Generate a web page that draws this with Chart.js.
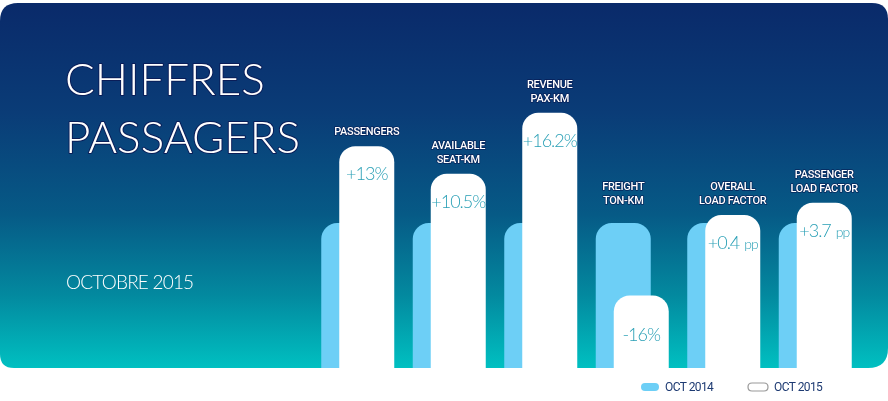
<!DOCTYPE html>
<html>
<head>
<meta charset="utf-8">
<script src="https://cdn.jsdelivr.net/npm/chart.js@4.4.0/dist/chart.umd.min.js"></script>
<style>
  html, body { margin: 0; padding: 0; background: #fff; }
  #wrap { width: 888px; height: 401px; }
</style>
</head>
<body>
<div id="wrap"><canvas id="traffic-chart" width="888" height="401"></canvas></div>
<script>
// traffic figures - Oct 2015 vs Oct 2014

const categories = [['PASSENGERS'], ['AVAILABLE', 'SEAT-KM'], ['REVENUE', 'PAX-KM'], ['FREIGHT', 'TON-KM'], ['OVERALL', 'LOAD FACTOR'], ['PASSENGER', 'LOAD FACTOR']];
// bar heights as drawn in the picture (Oct 2014 = 100)
const oct2014 = [100, 100, 100, 100, 100, 100];
const oct2015 = [153, 134, 176, 50, 105.5, 114];
const changeValues = ['+13%', '+10.5%', '+16.2%', '-16%', '+0.4', '+3.7'];
const changeUnits = ['', '', '', '', 'pp', 'pp'];
const seriesLabels = ['OCT 2014', 'OCT 2015'];
const titleLines = ['CHIFFRES', 'PASSAGERS'];
const subtitle = 'OCTOBRE 2015';

const LIGHT_BLUE = '#6dcff6';
const TEAL_TEXT = '#2aa0b6';

function roundRectPath(ctx, x, y, w, h, r) {
  ctx.beginPath();
  ctx.moveTo(x + r.tl, y);
  ctx.lineTo(x + w - r.tr, y);
  ctx.quadraticCurveTo(x + w, y, x + w, y + r.tr);
  ctx.lineTo(x + w, y + h - r.br);
  ctx.quadraticCurveTo(x + w, y + h, x + w - r.br, y + h);
  ctx.lineTo(x + r.bl, y + h);
  ctx.quadraticCurveTo(x, y + h, x, y + h - r.bl);
  ctx.lineTo(x, y + r.tl);
  ctx.quadraticCurveTo(x, y, x + r.tl, y);
  ctx.closePath();
}

function outlinedText(ctx, text, x, y, stroke, width) {
  ctx.lineJoin = 'round';
  ctx.strokeStyle = stroke;
  ctx.lineWidth = width;
  ctx.strokeText(text, x, y);
  ctx.fillStyle = '#fff';
  ctx.fillText(text, x, y);
}

// gradient panel + title behind the bars
const panelPlugin = {
  id: 'panel',
  beforeDraw(chart) {
    const ctx = chart.ctx;
    ctx.save();
    ctx.fillStyle = '#fff';
    ctx.fillRect(0, 0, chart.width, chart.height);
    const top = 3, bottom = chart.chartArea.bottom;
    const grad = ctx.createLinearGradient(0, top, 0, bottom);
    grad.addColorStop(0, '#0a2a6a');
    grad.addColorStop(0.3, '#0a3c77');
    grad.addColorStop(0.58, '#065a86');
    grad.addColorStop(0.8, '#03899f');
    grad.addColorStop(1, '#00c0c1');
    roundRectPath(ctx, 0, top, chart.width, bottom - top, { tl: 18, tr: 16, br: 20, bl: 14 });
    ctx.fillStyle = grad;
    ctx.fill();

    ctx.textAlign = 'left';
    ctx.textBaseline = 'alphabetic';
    ctx.font = '300 44px Lato';
    outlinedText(ctx, titleLines[0], 65, 95, '#0a1d58', 2);
    outlinedText(ctx, titleLines[1], 65, 153, '#0a1d58', 2);
    ctx.font = '300 19px Lato';
    ctx.letterSpacing = '-0.8px';
    ctx.fillStyle = '#fff';
    ctx.fillText(subtitle, 66, 289);
    ctx.restore();
  }
};

// white bars go on top of the light blue ones, then labels
const barsPlugin = {
  id: 'bars',
  beforeDatasetDraw(chart, args) {
    if (args.index === 1) return false;
  },
  afterDatasetsDraw(chart) {
    const ctx = chart.ctx;
    const m14 = chart.getDatasetMeta(0);
    const m15 = chart.getDatasetMeta(1);
    m15.controller.draw();

    ctx.save();
    categories.forEach((lines, i) => {
      const a = m14.data[i], b = m15.data[i];
      const tall = b.y < a.y ? b : a;
      // category name above the taller bar
      ctx.font = '500 11px Roboto';
      ctx.letterSpacing = '-0.3px';
      ctx.textAlign = 'center';
      ctx.textBaseline = 'alphabetic';
      const gap = tall === a ? 19 : 11;
      lines.forEach((line, k) => {
        const y = tall.y - gap - (lines.length - 1 - k) * 14;
        outlinedText(ctx, line, tall.x, y, 'rgba(8,25,80,0.8)', 1.5);
      });

      // change inside the white bar
      const h = b.base - b.y;
      const baseY = h < 100 ? b.base - 27 : b.y + 34;
      ctx.letterSpacing = '-1px';
      ctx.font = '300 18px Lato';
      const numW = ctx.measureText(changeValues[i]).width;
      let unitW = 0;
      if (changeUnits[i]) {
        ctx.font = '300 14px Lato';
        unitW = ctx.measureText(changeUnits[i]).width + 5;
      }
      const x = b.x - (numW + unitW) / 2;
      ctx.textAlign = 'left';
      ctx.fillStyle = TEAL_TEXT;
      ctx.font = '300 18px Lato';
      ctx.fillText(changeValues[i], x, baseY);
      if (changeUnits[i]) {
        ctx.font = '300 14px Lato';
        ctx.fillText(changeUnits[i], x + numW + 5, baseY);
      }
    });
    ctx.restore();
  },
  afterDraw(chart) {
    // legend under the panel
    const ctx = chart.ctx;
    const ds = chart.data.datasets;
    ctx.save();
    ctx.font = '400 12px Roboto';
    ctx.letterSpacing = '-0.6px';
    ctx.textBaseline = 'middle';
    ctx.textAlign = 'left';
    const cy = 387;
    const items = [{ x: 641, ds: ds[0] }, { x: 748, ds: ds[1] }];
    items.forEach((it, k) => {
      const w = k === 0 ? 18 : 20;
      roundRectPath(ctx, it.x, cy - 4, w, 8, { tl: 4, tr: 4, br: 4, bl: 4 });
      if (k === 0) {
        ctx.fillStyle = it.ds.backgroundColor;
        ctx.fill();
      } else {
        ctx.fillStyle = '#fff';
        ctx.fill();
        ctx.strokeStyle = '#9a9a9a';
        ctx.lineWidth = 1.2;
        ctx.stroke();
      }
      ctx.fillStyle = '#1d3a72';
      ctx.fillText(it.ds.label, it.x + w + 6, cy + 0.5);
    });
    ctx.restore();
  }
};

const ctx = document.getElementById('traffic-chart').getContext('2d');
const trafficChart = new Chart(ctx, {
  type: 'bar',
  data: {
    labels: categories,
    datasets: [
      {
        label: seriesLabels[0],
        data: oct2014,
        backgroundColor: LIGHT_BLUE,
        borderRadius: { topLeft: 16, topRight: 16 },
        borderSkipped: 'bottom'
      },
      {
        label: seriesLabels[1],
        data: oct2015,
        backgroundColor: '#ffffff',
        borderRadius: { topLeft: 16, topRight: 16 },
        borderSkipped: 'bottom'
      }
    ]
  },
  options: {
    responsive: false,
    animation: false,
    datasets: { bar: { categoryPercentage: 0.3934, barPercentage: 3.056 } },
    layout: { padding: { left: 312, right: 27, top: 5.5, bottom: 33 } },
    plugins: { legend: { display: false }, tooltip: { enabled: false } },
    scales: {
      x: { display: false },
      y: { display: false, min: 0, max: 250 }
    }
  },
  plugins: [panelPlugin, barsPlugin]
});
</script>
</body>
</html>
